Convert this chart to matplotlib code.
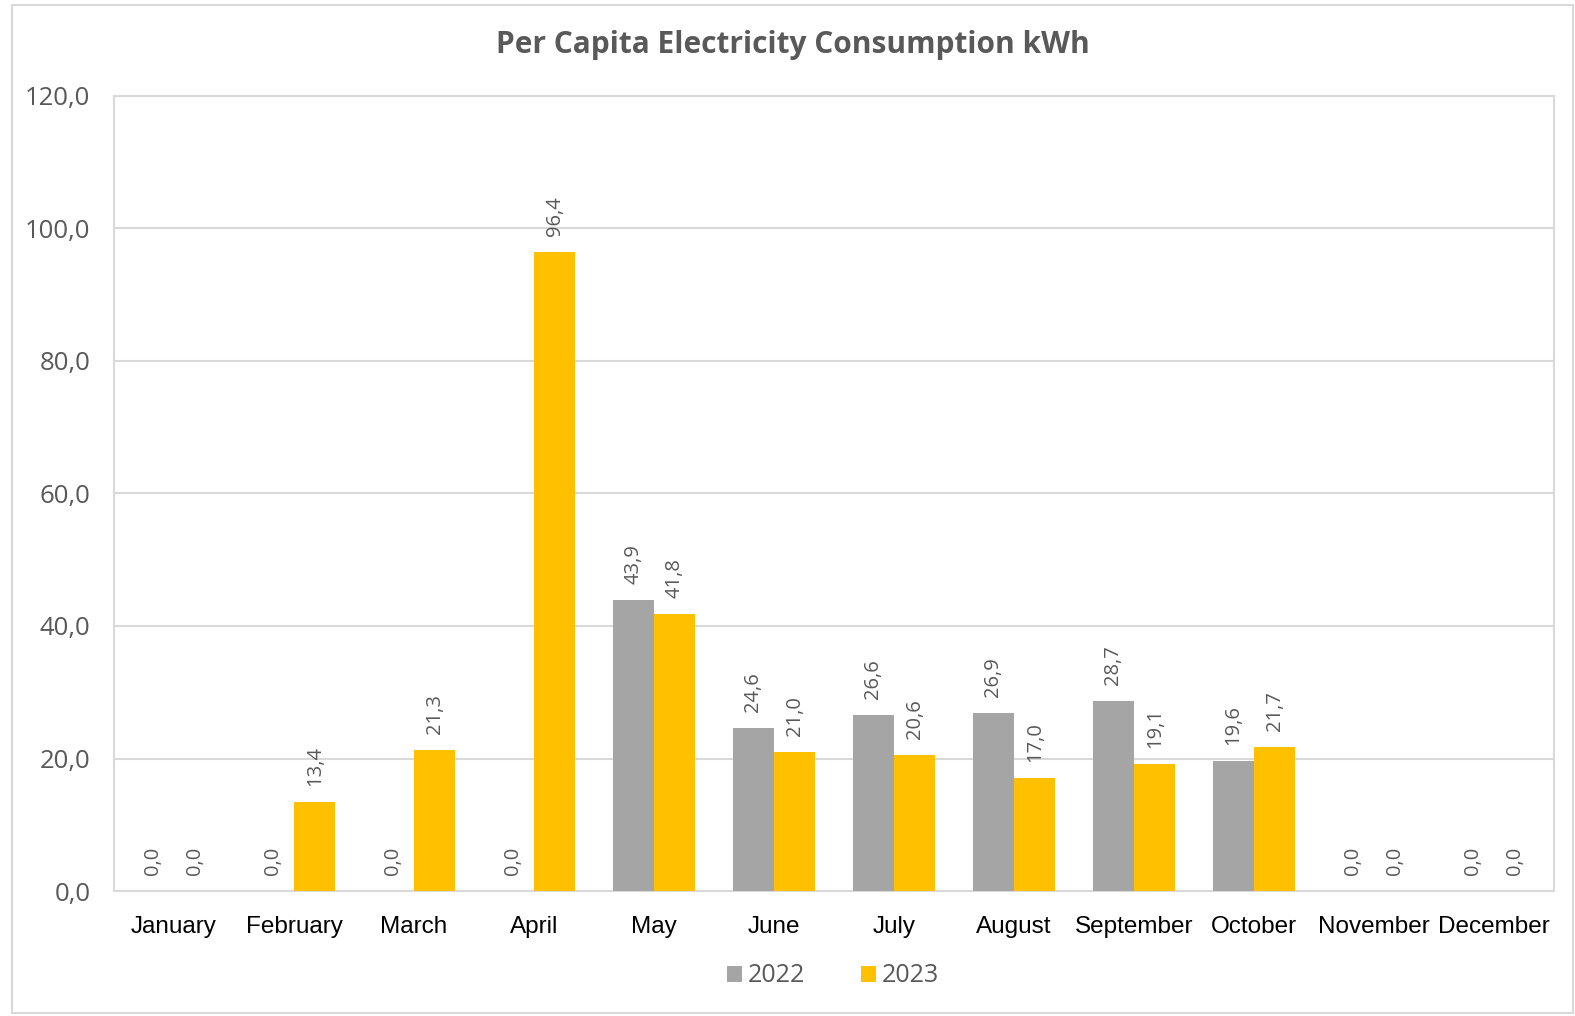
import matplotlib
matplotlib.use("Agg")
import matplotlib.pyplot as plt
import numpy as np
from matplotlib.patches import Rectangle

months = ["January", "February", "March", "April", "May", "June", "July",
          "August", "September", "October", "November", "December"]
values_2022 = [0.0, 0.0, 0.0, 0.0, 43.9, 24.6, 26.6, 26.9, 28.7, 19.6, 0.0, 0.0]
values_2023 = [0.0, 13.4, 21.3, 96.4, 41.8, 21.0, 20.6, 17.0, 19.1, 21.7, 0.0, 0.0]
series_names = ["2022", "2023"]
yticks = [0, 20, 40, 60, 80, 100, 120]

c22 = "#A5A5A5"
c23 = "#FFC000"
grid_c = "#D9D9D9"
text_c = "#595959"

fig = plt.figure(figsize=(15.75, 10.16), dpi=100)
fig.patch.set_facecolor("white")
# outer border
fig.add_artist(Rectangle((12/1575, 3/1016), (1573-12)/1575, (1011-3)/1016,
                         transform=fig.transFigure, fill=False,
                         edgecolor=grid_c, linewidth=1.5))

ax = fig.add_axes([114/1575, 1-891/1016, (1554-114)/1575, (891-96)/1016])
x = np.arange(len(months))
w = 0.345
b1 = ax.bar(x - w/2, values_2022, w, color=c22, label=series_names[0], zorder=3)
b2 = ax.bar(x + w/2, values_2023, w, color=c23, label=series_names[1], zorder=3)

ax.set_xlim(-0.5, len(months) - 0.5)
ax.set_ylim(0, 120)
ax.set_yticks(yticks)
ax.set_yticklabels([f"{v:.1f}".replace(".", ",") for v in yticks],
                   fontsize=18.5, color=text_c, family="Open Sans")
ax.set_xticks(x)
ax.set_xticklabels(months, fontsize=17.5, color="black", family="Liberation Sans")
ax.tick_params(axis="both", length=0)
ax.tick_params(axis="y", pad=17)
ax.tick_params(axis="x", pad=18)
ax.grid(axis="y", color=grid_c, linewidth=1.5, zorder=0)
for s in ["left", "right", "top", "bottom"]:
    ax.spines[s].set_color(grid_c)
    ax.spines[s].set_linewidth(1.5)

for bars, vals in ((b1, values_2022), (b2, values_2023)):
    for rect, v in zip(bars, vals):
        ax.annotate(f"{v:.1f}".replace(".", ","),
                    (rect.get_x() + rect.get_width()/2, v),
                    xytext=(0, 11.5), textcoords="offset points",
                    rotation=90, ha="center", va="bottom",
                    fontsize=14.5, color=text_c, family="Open Sans", zorder=4)

fig.text(793/1575, 1-45/1016, "Per Capita Electricity Consumption kWh",
         ha="center", va="center", fontsize=21.5, fontweight="bold",
         color=text_c, family="Open Sans")

leg = fig.legend(handles=[b1, b2], labels=series_names, loc="center",
                 bbox_to_anchor=(833/1575, 1-976/1016), ncol=2, frameon=False,
                 handlelength=0.6, handleheight=0.6,
                 handletextpad=0.25, columnspacing=2.2,
                 prop={"family": "Open Sans", "size": 18})
for t in leg.get_texts():
    t.set_color(text_c)

fig.savefig("out.png", dpi=100, facecolor="white")
